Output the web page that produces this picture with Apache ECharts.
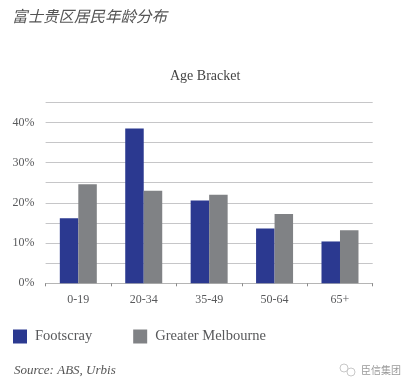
<!DOCTYPE html>
<html>
<head>
<meta charset="utf-8">
<style>html,body{margin:0;padding:0;background:#fff}#chart{width:415px;height:387px}</style>
<script src="https://cdn.jsdelivr.net/npm/echarts@6/dist/echarts.min.js"></script>
</head>
<body>
<div id="chart"></div>
<script>
var categories = ['0-19', '20-34', '35-49', '50-64', '65+'];
var footscray = [16.2, 38.5, 20.6, 13.6, 10.4];
var melbourne = [24.6, 23.0, 22.0, 17.2, 13.2];
var serif = '"Liberation Serif", serif';
var textColor = '#58595b';

var myChart = echarts.init(document.getElementById('chart'));
var option = {
    animation: false,
    backgroundColor: '#fff',
    title: [
        {text: '富士贵区居民年龄分布', left: 7, top: 3,
            textStyle: {fontFamily: '"Noto Sans CJK SC"', fontStyle: 'italic', fontWeight: 'normal', fontSize: 15.5, color: '#555'}},
        {text: 'Age Bracket', left: 165, top: 64,
            textStyle: {fontFamily: serif, fontWeight: 'normal', fontSize: 14, color: '#444'}},
        {text: 'Source: ABS, Urbis', left: 9, top: 359,
            textStyle: {fontFamily: serif, fontStyle: 'italic', fontWeight: 'normal', fontSize: 13, color: '#555'}},
        {text: '臣信集团', left: 356, top: 360,
            textStyle: {fontFamily: '"Noto Sans CJK SC"', fontWeight: 'normal', fontSize: 10, color: '#9a9a9a'}}
    ],
    legend: {
        left: 8, top: 324, itemWidth: 14, itemHeight: 14, itemGap: 41,
        icon: 'rect',
        textStyle: {fontFamily: serif, fontSize: 14.5, color: textColor, padding: [0, 0, 0, 3]},
        data: ['Footscray', 'Greater Melbourne']
    },
    grid: {left: 45.6, right: 42.3, top: 102.3, bottom: 103.7},
    xAxis: {
        type: 'category',
        data: categories,
        axisLine: {lineStyle: {color: '#b5b5b5', width: 1}},
        axisTick: {show: true, length: 3, lineStyle: {color: '#8a8a8a'}},
        axisLabel: {fontFamily: serif, fontSize: 12, color: textColor, margin: 11}
    },
    yAxis: {
        type: 'value', min: 0, max: 45, interval: 5,
        axisLine: {show: false},
        axisTick: {show: false},
        axisLabel: {
            fontFamily: serif, fontSize: 12, color: textColor, margin: 11,
            formatter: function (v) { return v % 10 === 0 ? v + '%' : ''; }
        },
        splitLine: {lineStyle: {color: '#c6c6c8', width: 1}}
    },
    series: [
        {name: 'Footscray', type: 'bar', data: footscray, barWidth: 18.5, barGap: 0,
            itemStyle: {color: '#2b3990'}},
        {name: 'Greater Melbourne', type: 'bar', data: melbourne, barWidth: 18.5,
            itemStyle: {color: '#808285'}}
    ],
    graphic: [
        {type: 'circle', shape: {cx: 344, cy: 368, r: 4}, style: {fill: 'none', stroke: '#c8c8c8', lineWidth: 1}},
        {type: 'circle', shape: {cx: 351, cy: 372, r: 4}, style: {fill: 'none', stroke: '#c8c8c8', lineWidth: 1}}
    ]
};
myChart.setOption(option);
</script>
</body>
</html>
